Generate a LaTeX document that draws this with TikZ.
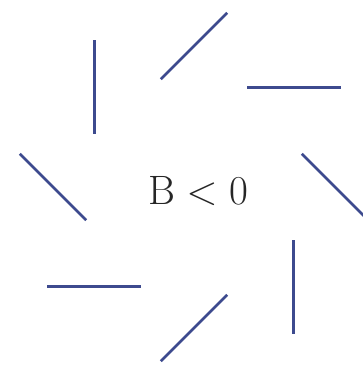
\documentclass[tikz,border=0pt]{standalone}
\usepackage{amsmath, amssymb}
\usepackage{xcolor}
\usepackage{tikz}
\usetikzlibrary{calc}

\definecolor{segblue}{HTML}{3D4A8E}

\begin{document}
\begin{tikzpicture}[
    x=1pt, y=1pt,
    seg/.style={draw=segblue, line width=2.8pt},
    sign/.style={font=\Huge, text=black!85, inner sep=0pt}
]
\useasboundingbox (0,0) rectangle (363,365);
\coordinate (c) at (194,178);
\node[sign] (label) at (198,174) {\scalebox{1.65}{$\mathrm{B}<0$}};

% eight bars turned round the centre
\foreach \a in {0,45,...,315}{
  \draw[seg] ($(c)+(\a:141)+(\a-45:47)$) -- ($(c)+(\a:141)+(\a+135:47)$);
}
\end{tikzpicture}
\end{document}
